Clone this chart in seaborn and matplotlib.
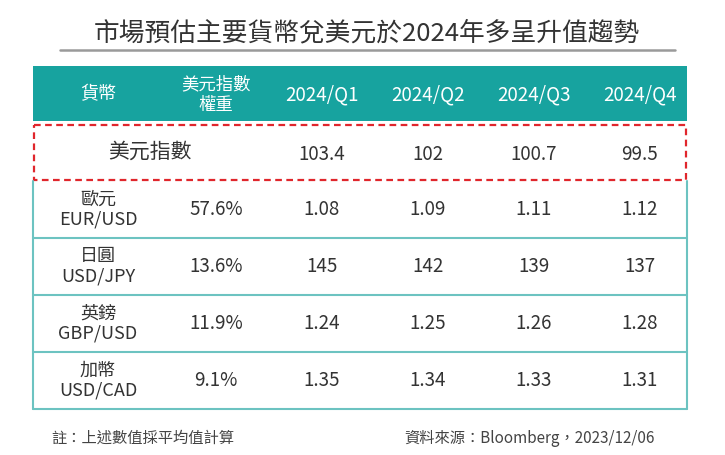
import matplotlib
matplotlib.use("Agg")
import matplotlib.pyplot as plt
from matplotlib.patches import Rectangle
import seaborn as sns

# 資料
title = "市場預估主要貨幣兌美元於2024年多呈升值趨勢"
quarters = ["2024/Q1", "2024/Q2", "2024/Q3", "2024/Q4"]
dxy = [103.4, 102, 100.7, 99.5]
currencies = ["歐元\nEUR/USD", "日圓\nUSD/JPY", "英鎊\nGBP/USD", "加幣\nUSD/CAD"]
weights = ["57.6%", "13.6%", "11.9%", "9.1%"]
fx_values = [
    [1.08, 1.09, 1.11, 1.12],
    [145, 142, 139, 137],
    [1.24, 1.25, 1.26, 1.28],
    [1.35, 1.34, 1.33, 1.31],
]
note = "註：上述數值採平均值計算"
source = "資料來源：Bloomberg，2023/12/06"

sns.set_theme(style="white")
plt.rcParams["font.family"] = ["Noto Sans CJK TC", "DejaVu Sans"]

teal = "#17a39f"
line_teal = "#6cc3c1"
red = "#e0262c"
txt = "#333333"

fig = plt.figure(figsize=(7.25, 4.55), dpi=100)
ax = fig.add_axes([0, 0, 1, 1])
ax.set_xlim(0, 725)
ax.set_ylim(455, 0)
ax.axis("off")

left, right = 33, 687
col_x = [98, 216, 322, 428, 534, 640]

# 標題
ax.text(367, 33, title, ha="center", va="center", fontsize=18.5, color=txt)
ax.plot([60, 675], [50, 50], color="#9a9a9a", lw=1.8)

# 表頭
ax.add_patch(Rectangle((left, 66), right - left, 55, color=teal, lw=0))
ax.text(col_x[0], 94, "貨幣", ha="center", va="center", fontsize=13, color="white")
ax.text(col_x[1], 84, "美元指數", ha="center", va="center", fontsize=12.5, color="white")
ax.text(col_x[1], 105, "權重", ha="center", va="center", fontsize=12.5, color="white")
for x, q in zip(col_x[2:], quarters):
    ax.text(x, 95, q, ha="center", va="center", fontsize=13.5, color="white")

# 美元指數列
ax.add_patch(Rectangle((left + 1, 125), right - left - 2, 55, fill=False,
                       edgecolor=red, lw=1.6, linestyle=(0, (3, 2))))
ax.text(150, 152, "美元指數", ha="center", va="center", fontsize=15, color=txt)
for x, v in zip(col_x[2:], dxy):
    ax.text(x, 154, f"{v:g}", ha="center", va="center", fontsize=13.5, color=txt)

# 各貨幣列
top, h = 181, 57
ax.plot([left, left], [top, top + 4 * h], color=line_teal, lw=1.5)
ax.plot([right, right], [top, top + 4 * h], color=line_teal, lw=1.5)
for i, (cur, w, vals) in enumerate(zip(currencies, weights, fx_values)):
    yc = top + h * i + h / 2
    ax.plot([left, right], [top + h * (i + 1)] * 2, color=line_teal, lw=1.5)
    ax.text(col_x[0], yc, cur, ha="center", va="center", fontsize=13,
            color=txt, linespacing=1.15)
    ax.text(col_x[1], yc, w, ha="center", va="center", fontsize=13.5, color=txt)
    for x, v in zip(col_x[2:], vals):
        ax.text(x, yc, f"{v:g}", ha="center", va="center", fontsize=13.5, color=txt)

# 註解
ax.text(51, 438, note, ha="left", va="center", fontsize=11, color="#444444")
ax.text(655, 438, source, ha="right", va="center", fontsize=11, color="#444444")

fig.savefig("out.png", dpi=100, facecolor="white")
